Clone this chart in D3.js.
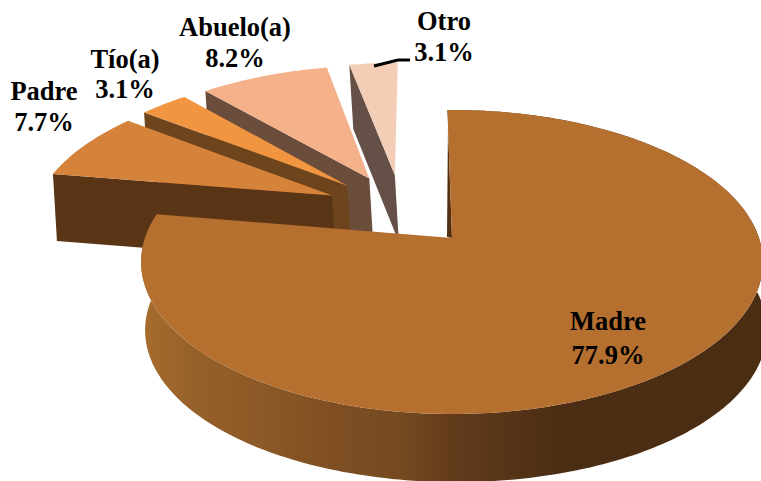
<!DOCTYPE html>
<html>
<head>
<meta charset="utf-8">
<script src="https://cdn.jsdelivr.net/npm/d3@7"></script>
<style>
  html, body { margin: 0; padding: 0; background: #fff; }
  svg { display: block; }
  text { font-family: "Liberation Serif", serif; font-weight: bold; font-size: 26.5px; fill: #000; text-anchor: middle; }
</style>
</head>
<body>
<script>
const categories = ['Madre', 'Padre', 'Tío(a)', 'Abuelo(a)', 'Otro'];
const values = [77.9, 7.7, 3.1, 8.2, 3.1];
const topColors = ['#b56f2f', '#d5833b', '#f29540', '#f4b18a', '#f4cdb6'];
const wallColors = ['#52300f', '#5a3515', '#6e441c', '#6b4d3c', '#645046'];

// label anchor: centre x, first baseline, second baseline
const labelPos = [[608, 330, 364], [44, 100, 131], [125, 68, 98], [235, 36, 67], [444, 30, 61]];

const width = 761, height = 481;
const svg = d3.select('body').append('svg').attr('width', width).attr('height', height);

// perspective view of a unit disc, y towards the viewer, z downwards
const X0 = 452, Y0 = 238, R = 307, S = 148.2, K = 0.158, DEPTH = 72;
const SHIFT_X = 4, SHRINK_Y = 0.06;
const explode = 0.26;
const rotation = -1 * Math.PI / 180;

function project(x, y, z) {
    const w = 1 - K * y;
    return [X0 + SHIFT_X * z + R * x / w, Y0 + (S * y + DEPTH * z) / (w + SHRINK_Y * z)];
}

const slices = d3.pie().sort(null).value(d => d)
    .startAngle(rotation).endAngle(rotation + 2 * Math.PI)(values);
const mid = d => (d.startAngle + d.endAngle) / 2;
const line = d3.line();

// every slice moves out radially; origin is kept on the tip of the big slice
function apex(d) {
    const m = mid(slices[0]);
    const a = mid(d);
    return [explode * (Math.sin(a) - Math.sin(m)), explode * (-Math.cos(a) + Math.cos(m))];
}

function rim(d, z, from, to) {
    const c = apex(d);
    const n = Math.max(2, Math.ceil((to - from) / 0.02));
    return d3.range(n + 1).map(i => {
        const t = from + (to - from) * i / n;
        return project(c[0] + Math.sin(t), c[1] - Math.cos(t), z);
    });
}

const defs = svg.append('defs');
const grad = defs.append('linearGradient').attr('id', 'wall')
    .attr('gradientUnits', 'userSpaceOnUse')
    .attr('x1', 140).attr('x2', 761).attr('y1', 0).attr('y2', 0);
[[0, '#a86c2d'], [0.09, '#96602a'], [0.2, '#8b5926'], [0.31, '#7f4f23'], [0.42, '#754a20'],
 [0.5, '#633c1b'], [0.61, '#533317'], [0.68, '#4a2d13'], [1, '#4a2d13']].forEach(s => {
    grad.append('stop').attr('offset', s[0]).attr('stop-color', s[1]);
});

// far slices first
const order = [4, 3, 2, 1, 0];
order.forEach(i => {
    const d = slices[i];
    const c = apex(d);
    const tip = project(c[0], c[1], 0);
    const top = [tip].concat(rim(d, 0, d.startAngle, d.endAngle));
    const g = svg.append('g').attr('class', 'slice');
    const a = d.startAngle;

    if (i === 0) {
        // round outer wall of the big slice
        const upper = rim(d, 0, d.startAngle, d.endAngle);
        const lower = rim(d, 1, d.startAngle, d.endAngle).reverse();
        g.append('path').attr('d', line(upper.concat(lower)) + 'Z').attr('fill', 'url(#wall)');
        // sliver of its straight wall, seen almost edge on
        const e = project(c[0] + 0.85 * Math.sin(a), c[1] - 0.85 * Math.cos(a), 0);
        g.append('path').attr('d', line([e, tip, [tip[0] - 5, tip[1] - 1]]) + 'Z')
            .attr('fill', wallColors[0]);
    } else {
        // straight wall under the leading edge
        const out = [c[0] + Math.sin(a), c[1] - Math.cos(a)];
        const wall = [tip, project(out[0], out[1], 0),
            project(out[0], out[1], 1), project(c[0], c[1], 1)];
        g.append('path').attr('d', line(wall) + 'Z').attr('fill', wallColors[i]);
    }
    g.append('path').attr('d', line(top) + 'Z').attr('fill', topColors[i]);
});

// leader line of the last label
svg.append('path')
    .attr('d', line([[374, 66], [398, 60], [410, 60]]))
    .attr('fill', 'none').attr('stroke', '#000').attr('stroke-width', 3);

categories.forEach((name, i) => {
    const p = labelPos[i];
    svg.append('text').attr('x', p[0]).attr('y', p[1]).text(name);
    svg.append('text').attr('x', p[0]).attr('y', p[2]).text(d3.format('.1f')(values[i]) + '%');
});
</script>
</body>
</html>
